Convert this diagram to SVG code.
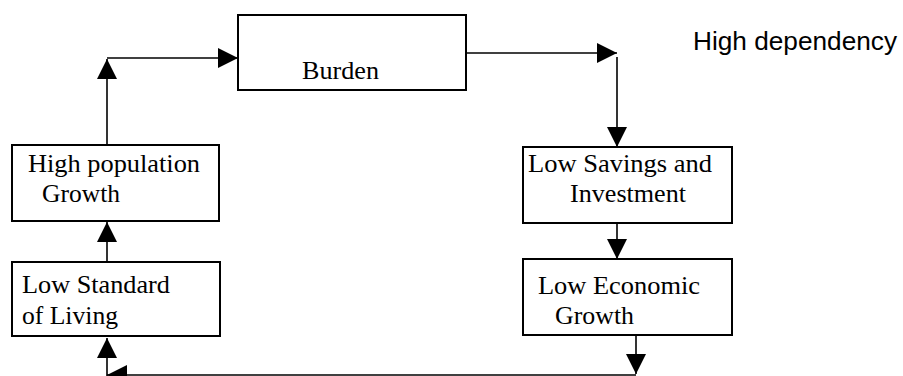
<svg xmlns="http://www.w3.org/2000/svg" width="903" height="376" viewBox="0 0 903 376">
<style>
.box{fill:#fff;stroke:#000;stroke-width:2}
.t{font-family:"Liberation Serif","Times New Roman",serif;font-size:26px;fill:#000}
.s{font-family:"Liberation Sans",Arial,sans-serif;font-size:25px;fill:#000}
.c{fill:none;stroke:#000;stroke-width:1.6}
</style>
<defs>
<marker id="ah" markerUnits="userSpaceOnUse" markerWidth="20" markerHeight="20" viewBox="0 0 20 20" refX="20" refY="10" orient="auto">
<path d="M0,0 L20,10 L0,20 z" fill="#000"/>
</marker>
</defs>
<rect width="903" height="376" fill="#fff"/>
<g id="connectors">
<path class="c" d="M107,262 V222" marker-end="url(#ah)"/>
<path class="c" d="M107,145 V59" marker-end="url(#ah)"/>
<path class="c" d="M107,58 H238" marker-end="url(#ah)"/>
<path class="c" d="M466,53 H617" marker-end="url(#ah)"/>
<path class="c" d="M617,57 V147" marker-end="url(#ah)"/>
<path class="c" d="M617,223 V259" marker-end="url(#ah)"/>
<path class="c" d="M636,335 V374" marker-end="url(#ah)"/>
<path class="c" d="M636,375 H107" stroke-width="2" marker-end="url(#ah)"/>
<path class="c" d="M107,376 V338" marker-end="url(#ah)"/>
</g>
<g id="burden">
<rect class="box" x="238" y="15" width="228" height="75"/>
<text class="t" x="302" y="79" textLength="77" lengthAdjust="spacingAndGlyphs">Burden</text>
</g>
<g id="high-dependency">
<text class="s" x="693" y="50" textLength="204" lengthAdjust="spacingAndGlyphs">High dependency</text>
</g>
<g id="high-population">
<rect class="box" x="12" y="145" width="207" height="76"/>
<text class="t" x="28" y="172" textLength="172" lengthAdjust="spacingAndGlyphs">High population</text>
<text class="t" x="42" y="202" textLength="78" lengthAdjust="spacingAndGlyphs">Growth</text>
</g>
<g id="low-standard">
<rect class="box" x="12" y="262" width="208" height="74"/>
<text class="t" x="22" y="293" textLength="148" lengthAdjust="spacingAndGlyphs">Low Standard</text>
<text class="t" x="22" y="324" textLength="96" lengthAdjust="spacingAndGlyphs">of Living</text>
</g>
<g id="low-savings">
<rect class="box" x="523" y="147" width="209" height="76"/>
<text class="t" x="528" y="172" textLength="184" lengthAdjust="spacingAndGlyphs">Low Savings and</text>
<text class="t" x="570" y="202" textLength="116" lengthAdjust="spacingAndGlyphs">Investment</text>
</g>
<g id="low-economic">
<rect class="box" x="523" y="259" width="209" height="76"/>
<text class="t" x="538" y="294" textLength="162" lengthAdjust="spacingAndGlyphs">Low Economic</text>
<text class="t" x="555" y="324" textLength="79" lengthAdjust="spacingAndGlyphs">Growth</text>
</g>
</svg>
